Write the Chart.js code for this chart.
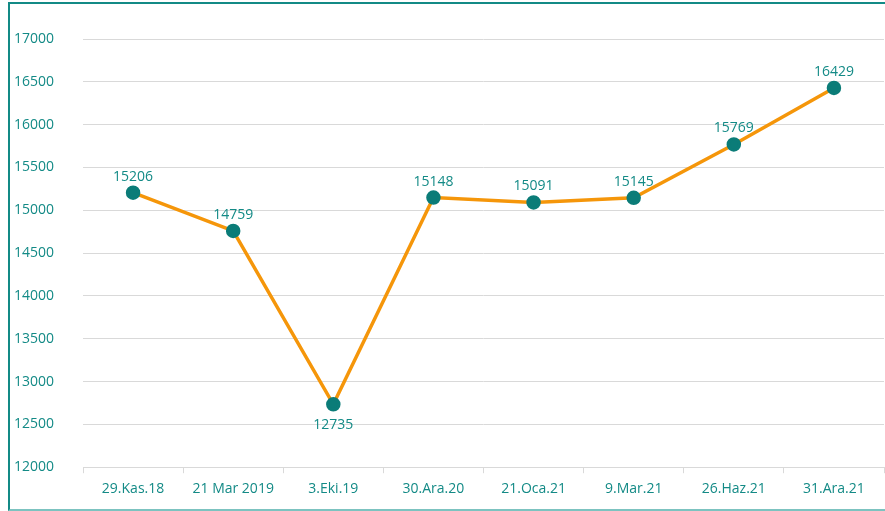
<!DOCTYPE html>
<html>
<head>
<meta charset="utf-8">
<script src="https://cdn.jsdelivr.net/npm/chart.js@4"></script>
<style>
  body { margin: 0; background: #fff; }
  #kutu { position: absolute; left: 0; top: 0; width: 885px; height: 511px; overflow: hidden; }
  #cerceve {
    position: absolute; left: 8px; top: 2px; width: 900px; height: 505px;
    border-left: 2px solid #138a86; border-top: 2px solid #138a86; border-bottom: 2px solid #7cc3c0;
  }
</style>
</head>
<body>
<div id="kutu"><canvas id="grafik" width="893" height="511"></canvas></div>
<div id="cerceve"></div>
<script>
const tarihler = ['29.Kas.18', '21 Mar 2019', '3.Eki.19', '30.Ara.20', '21.Oca.21', '9.Mar.21', '26.Haz.21', '31.Ara.21'];
const degerler = [15206, 14759, 12735, 15148, 15091, 15145, 15769, 16429];
const eksenMin = 12000;
const eksenMax = 17000;
const adim = 500;

const yesil = '#138a86';

// noktalarin uzerine degerleri yaz
const etiketler = {
  id: 'etiketler',
  afterDatasetsDraw(chart) {
    const ctx = chart.ctx;
    const meta = chart.getDatasetMeta(0);
    ctx.save();
    ctx.font = '14px "Open Sans"';
    ctx.fillStyle = yesil;
    ctx.textAlign = 'center';
    ctx.textBaseline = 'middle';
    meta.data.forEach((p, i) => {
      const alt = i > 0 && i < degerler.length - 1 && degerler[i] < degerler[i - 1] && degerler[i] < degerler[i + 1] && degerler[i] < 13000;
      ctx.fillText(degerler[i], p.x, alt ? p.y + 21 : p.y - 16);
    });
    ctx.restore();
  }
};

new Chart(document.getElementById('grafik'), {
  type: 'line',
  data: {
    labels: tarihler,
    datasets: [{
      data: degerler,
      borderColor: '#f5960a',
      borderWidth: 3.5,
      pointBackgroundColor: '#0b7c78',
      pointBorderColor: '#0b7c78',
      pointRadius: 5.5,
      tension: 0
    }]
  },
  options: {
    responsive: false,
    animation: false,
    layout: { padding: { left: 14, right: 0, top: 39, bottom: 7 } },
    plugins: { legend: { display: false }, tooltip: { enabled: false } },
    scales: {
      x: {
        offset: true,
        grid: { drawOnChartArea: false, tickLength: 6, color: '#d9d9d9', offset: true },
        border: { color: '#d9d9d9' },
        ticks: { color: yesil, font: { family: 'Open Sans', size: 14 }, padding: 7, maxRotation: 0 }
      },
      y: {
        min: eksenMin,
        max: eksenMax,
        afterFit(scale) { scale.width = 69; },
        grid: { color: '#d9d9d9', drawTicks: false },
        border: { display: false },
        ticks: { stepSize: adim, color: yesil, crossAlign: 'far', font: { family: 'Open Sans', size: 14 }, callback: v => String(v) }
      }
    }
  },
  plugins: [etiketler]
});
</script>
</body>
</html>
